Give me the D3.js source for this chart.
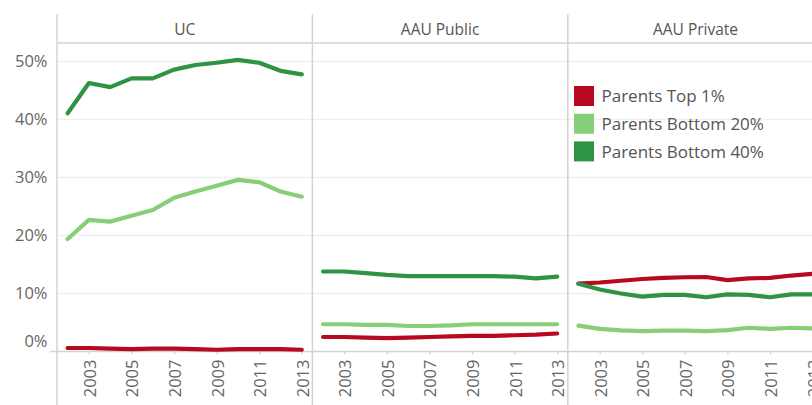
<!DOCTYPE html>
<html>
<head>
<meta charset="utf-8">
<script src="https://cdn.jsdelivr.net/npm/d3@7"></script>
<style>
  html, body { margin: 0; padding: 0; background: #fff; }
  svg { display: block; font-family: "Open Sans", "Noto Sans", sans-serif; }
</style>
</head>
<body>
<svg id="chart" width="812" height="405"></svg>
<script>
// ---- data ----
const years = [2002, 2003, 2004, 2005, 2006, 2007, 2008, 2009, 2010, 2011, 2012, 2013];
const panels = ["UC", "AAU Public", "AAU Private"];
const seriesNames = ["Parents Top 1%", "Parents Bottom 20%", "Parents Bottom 40%"];
const seriesColors = ["#b7091f", "#86cf78", "#2e9343"];

const ucTop1      = [0.6, 0.6, 0.5, 0.4, 0.5, 0.5, 0.4, 0.3, 0.4, 0.4, 0.4, 0.3];
const ucBottom20  = [19.4, 22.7, 22.4, 23.4, 24.4, 26.5, 27.6, 28.6, 29.6, 29.2, 27.6, 26.7];
const ucBottom40  = [41.1, 46.3, 45.6, 47.1, 47.1, 48.6, 49.4, 49.8, 50.3, 49.8, 48.4, 47.8];

const pubTop1     = [2.5, 2.5, 2.4, 2.3, 2.4, 2.5, 2.6, 2.7, 2.7, 2.8, 2.9, 3.1];
const pubBottom20 = [4.7, 4.7, 4.6, 4.6, 4.4, 4.4, 4.5, 4.7, 4.7, 4.7, 4.7, 4.7];
const pubBottom40 = [13.8, 13.8, 13.5, 13.2, 13.0, 13.0, 13.0, 13.0, 13.0, 12.9, 12.6, 12.9];

const privTop1     = [11.7, 11.9, 12.2, 12.5, 12.7, 12.8, 12.85, 12.3, 12.6, 12.7, 13.1, 13.4];
const privBottom20 = [4.45, 3.9, 3.65, 3.5, 3.6, 3.6, 3.5, 3.7, 4.1, 3.9, 4.1, 4.0];
const privBottom40 = [11.7, 10.7, 10.0, 9.45, 9.75, 9.75, 9.35, 9.85, 9.75, 9.35, 9.85, 9.85];

const yTicks = [0, 10, 20, 30, 40, 50];
const xTicks = [2003, 2005, 2007, 2009, 2011, 2013];

const panelSeries = [
  [ucTop1, ucBottom20, ucBottom40],
  [pubTop1, pubBottom20, pubBottom40],
  [privTop1, privBottom20, privBottom40]
];

// ---- layout ----
const svg = d3.select("#chart");
const W = 812;
const paneLeft = 57, paneW = 255.4;
const headTop = 14, headBottom = 43, axisY = 351.5;
const gridColor = "#efefef", borderColor = "#d3d3d3";

const y = d3.scaleLinear().domain([0, 53.2]).range([axisY, headBottom]);

// gridlines
svg.append("g").selectAll("line").data(yTicks.filter(d => d > 0)).join("line")
  .attr("x1", paneLeft).attr("x2", W)
  .attr("y1", d => y(d)).attr("y2", d => y(d))
  .attr("stroke", gridColor).attr("stroke-width", 1.5);

// y axis labels
svg.append("g").selectAll("text").data(yTicks).join("text")
  .attr("x", 47.5)
  .attr("y", d => d === 0 ? y(d) - 10 : y(d))
  .attr("dy", "0.36em")
  .attr("text-anchor", "end")
  .attr("font-size", 16.5)
  .attr("fill", "#666")
  .text(d => d + "%");

// header separator
svg.append("line")
  .attr("x1", paneLeft).attr("x2", W)
  .attr("y1", headBottom).attr("y2", headBottom)
  .attr("stroke", borderColor).attr("stroke-width", 1.5);

// bottom axis line
svg.append("line")
  .attr("x1", 50).attr("x2", W)
  .attr("y1", axisY).attr("y2", axisY)
  .attr("stroke", borderColor).attr("stroke-width", 1.5);

panels.forEach((name, i) => {
  const left = paneLeft + i * paneW;
  const x = d3.scaleLinear().domain([2001.5, 2013.5]).range([left, left + paneW]);

  // header text
  svg.append("text")
    .attr("x", left + paneW / 2).attr("y", (headTop + headBottom) / 2 + 1)
    .attr("dy", "0.36em")
    .attr("text-anchor", "middle")
    .attr("font-size", 15.5)
    .attr("fill", "#555")
    .text(name);

  // x axis ticks
  const xa = d3.axisBottom(x).tickValues(xTicks).tickSize(3).tickFormat(d3.format("d"));
  const g = svg.append("g").attr("transform", `translate(0,${axisY})`).call(xa);
  g.select(".domain").remove();
  g.selectAll(".tick line").attr("stroke", borderColor).attr("stroke-width", 1.2);
  g.selectAll(".tick text")
    .attr("font-family", '"Open Sans", "Noto Sans", sans-serif')
    .attr("font-size", 16.5)
    .attr("fill", "#666")
    .attr("text-anchor", "end")
    .attr("dominant-baseline", "central")
    .attr("dy", null)
    .attr("y", 0)
    .attr("transform", "translate(0,8) rotate(-90)");

  // lines
  const line = d3.line().x((d, j) => x(years[j])).y(d => y(d));
  panelSeries[i].forEach((vals, s) => {
    svg.append("path")
      .datum(vals)
      .attr("d", line)
      .attr("fill", "none")
      .attr("stroke", seriesColors[s])
      .attr("stroke-width", 4.2)
      .attr("stroke-linecap", "round")
      .attr("stroke-linejoin", "round");
  });
});

// vertical panel borders
const borders = [0, 1, 2].map(i => paneLeft + i * paneW);
svg.append("g").selectAll("line").data(borders).join("line")
  .attr("x1", d => d).attr("x2", d => d)
  .attr("y1", headTop).attr("y2", 405)
  .attr("stroke", borderColor).attr("stroke-width", 1.5);

// legend
const lg = svg.append("g").attr("transform", "translate(574,86)");
seriesNames.forEach((n, i) => {
  lg.append("rect")
    .attr("x", 0).attr("y", i * 27.7)
    .attr("width", 20).attr("height", 20)
    .attr("fill", seriesColors[i]);
  lg.append("text")
    .attr("x", 27.5).attr("y", i * 27.7 + 10)
    .attr("dy", "0.36em")
    .attr("font-size", 17)
    .attr("fill", "#555")
    .text(n);
});
</script>
</body>
</html>
